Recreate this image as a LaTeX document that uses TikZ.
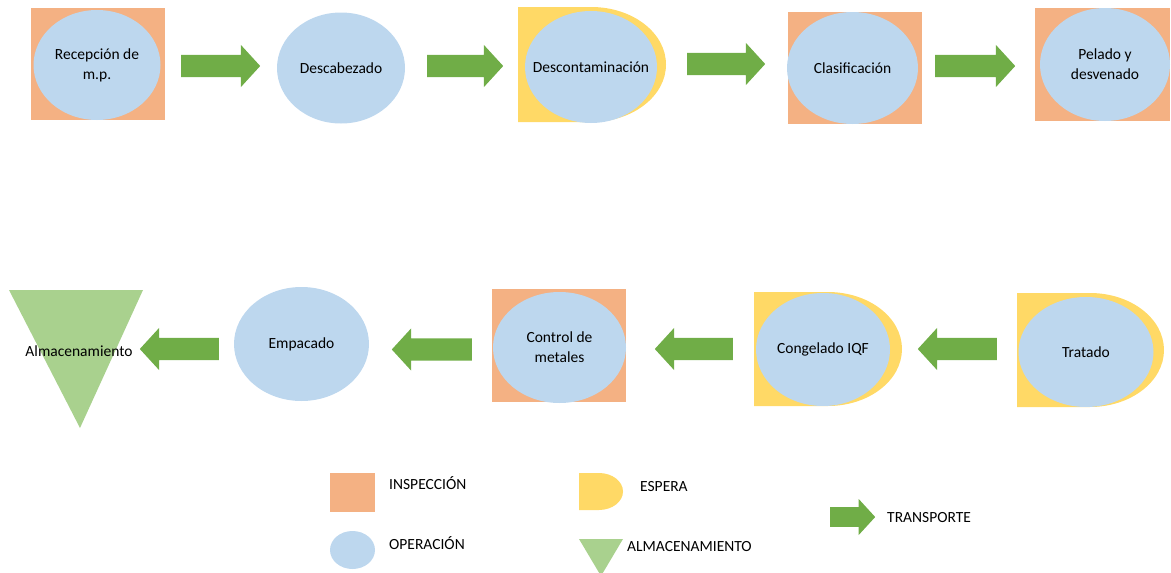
\documentclass[tikz,border=0pt]{standalone}
\usepackage{fontspec}
\setmainfont{Carlito}
\usetikzlibrary{shapes.geometric,shapes.arrows}

\definecolor{inspeccion}{HTML}{F4B183}
\definecolor{operacion}{HTML}{BDD7EE}
\definecolor{espera}{HTML}{FFD966}
\definecolor{almacen}{HTML}{A9D18E}
\definecolor{transporte}{HTML}{70AD47}

\tikzset{
  operacion/.style={ellipse, fill=operacion, inner ysep=0, inner xsep=-30, align=center,
    minimum width=132, minimum height=112, font=\fontsize{15.5}{20}\selectfont},
  inspbox/.style={rectangle, fill=inspeccion, inner sep=0,
    minimum width=134, minimum height=112},
  flecha/.style={single arrow, fill=transporte, inner sep=11, minimum height=79,
    minimum width=42, single arrow head extend=10, single arrow tip angle=95, anchor=tail},
  leyenda/.style={anchor=west, inner sep=0, font=\fontsize{15.5}{17}\selectfont}
}

% D shape for "espera": left x, top y, width, height
\newcommand{\espera}[4]{%
  \fill[espera] (#1,#2) -- ++({#3-#4/2*1.3},0)
    arc[start angle=90, end angle=-90, x radius={#4/2*1.3}, y radius={#4/2}]
    -- (#1,{#2-#4}) -- cycle;}

\begin{document}
\begin{tikzpicture}[x=1pt,y=1pt]
  \useasboundingbox (0,0) rectangle (1171,-573);

  % first row
  \node[inspbox] (insp1) at (98,-64) {};
  \node[operacion, minimum width=127, minimum height=110] (recepcion) at (97,-65) {Recepción de\\m.p.};
  \node[flecha] (t1) at (181,-66) {};
  \node[operacion, minimum width=128, minimum height=111] (descabezado) at (341,-68) {Descabezado};
  \node[flecha, minimum height=76] (t2) at (427,-66) {};
  \espera{518}{-7}{148}{115}
  \node[operacion] (descontaminacion) at (591,-67) {Descontaminación};
  \node[flecha, minimum height=78] (t3) at (687,-64) {};
  \node[inspbox] (insp2) at (855,-68) {};
  \node[operacion, minimum width=131] (clasificacion) at (852.5,-68) {Clasificación};
  \node[flecha, minimum height=80] (t4) at (935,-66) {};
  \node[inspbox, minimum width=135, minimum height=113] (insp3) at (1102.5,-64.5) {};
  \node[operacion, minimum width=130, minimum height=113] (pelado) at (1105,-64.5) {Pelado y\\desvenado};

  % second row
  \espera{1017}{-293}{147}{114}
  \node[operacion, minimum width=135, minimum height=110] (tratado) at (1086,-352) {Tratado};
  \node[flecha, shape border rotate=180] (t5) at (997,-349) {};
  \espera{754}{-292}{148}{114}
  \node[operacion, minimum width=134, minimum height=113] (congelado) at (823,-349.5) {Congelado IQF};
  \node[flecha, shape border rotate=180, minimum height=78] (t6) at (733,-349) {};
  \node[inspbox, minimum width=134, minimum height=113] (insp4) at (559,-345.5) {};
  \node[operacion, minimum width=133, minimum height=111] (control) at (559.5,-347.5) {Control de\\metales};
  \node[flecha, shape border rotate=180, minimum height=80] (t7) at (472,-349.5) {};
  \node[operacion, minimum width=135, minimum height=114] (empacado) at (301.5,-344) {Empacado};
  \node[flecha, shape border rotate=180] (t8) at (219,-349) {};
  \fill[almacen] (9,-290) -- (143,-290) -- (80,-428) -- cycle;
  \node[font=\fontsize{15.5}{17}\selectfont, inner sep=0] (almacenamiento) at (79,-351) {Almacenamiento};

  % legend
  \node[inspbox, minimum width=45, minimum height=39] (l1) at (352.5,-492.5) {};
  \node[leyenda] at (389,-483) {INSPECCIÓN};
  \node[ellipse, fill=operacion, inner sep=0, minimum width=45, minimum height=38] (l2) at (352.5,-550) {};
  \node[leyenda] at (389,-543) {OPERACIÓN};
  \espera{579}{-473}{44}{37}
  \node[leyenda] at (640,-487) {ESPERA};
  \fill[almacen] (579,-539) -- (623,-539) -- (601,-576) -- cycle;
  \node[leyenda] at (627,-547) {ALMACENAMIENTO};
  \node[flecha, inner sep=9.5, minimum height=45, minimum width=36, single arrow head extend=8] (l5) at (830,-517) {};
  \node[leyenda] at (887,-518) {TRANSPORTE};
\end{tikzpicture}
\end{document}
